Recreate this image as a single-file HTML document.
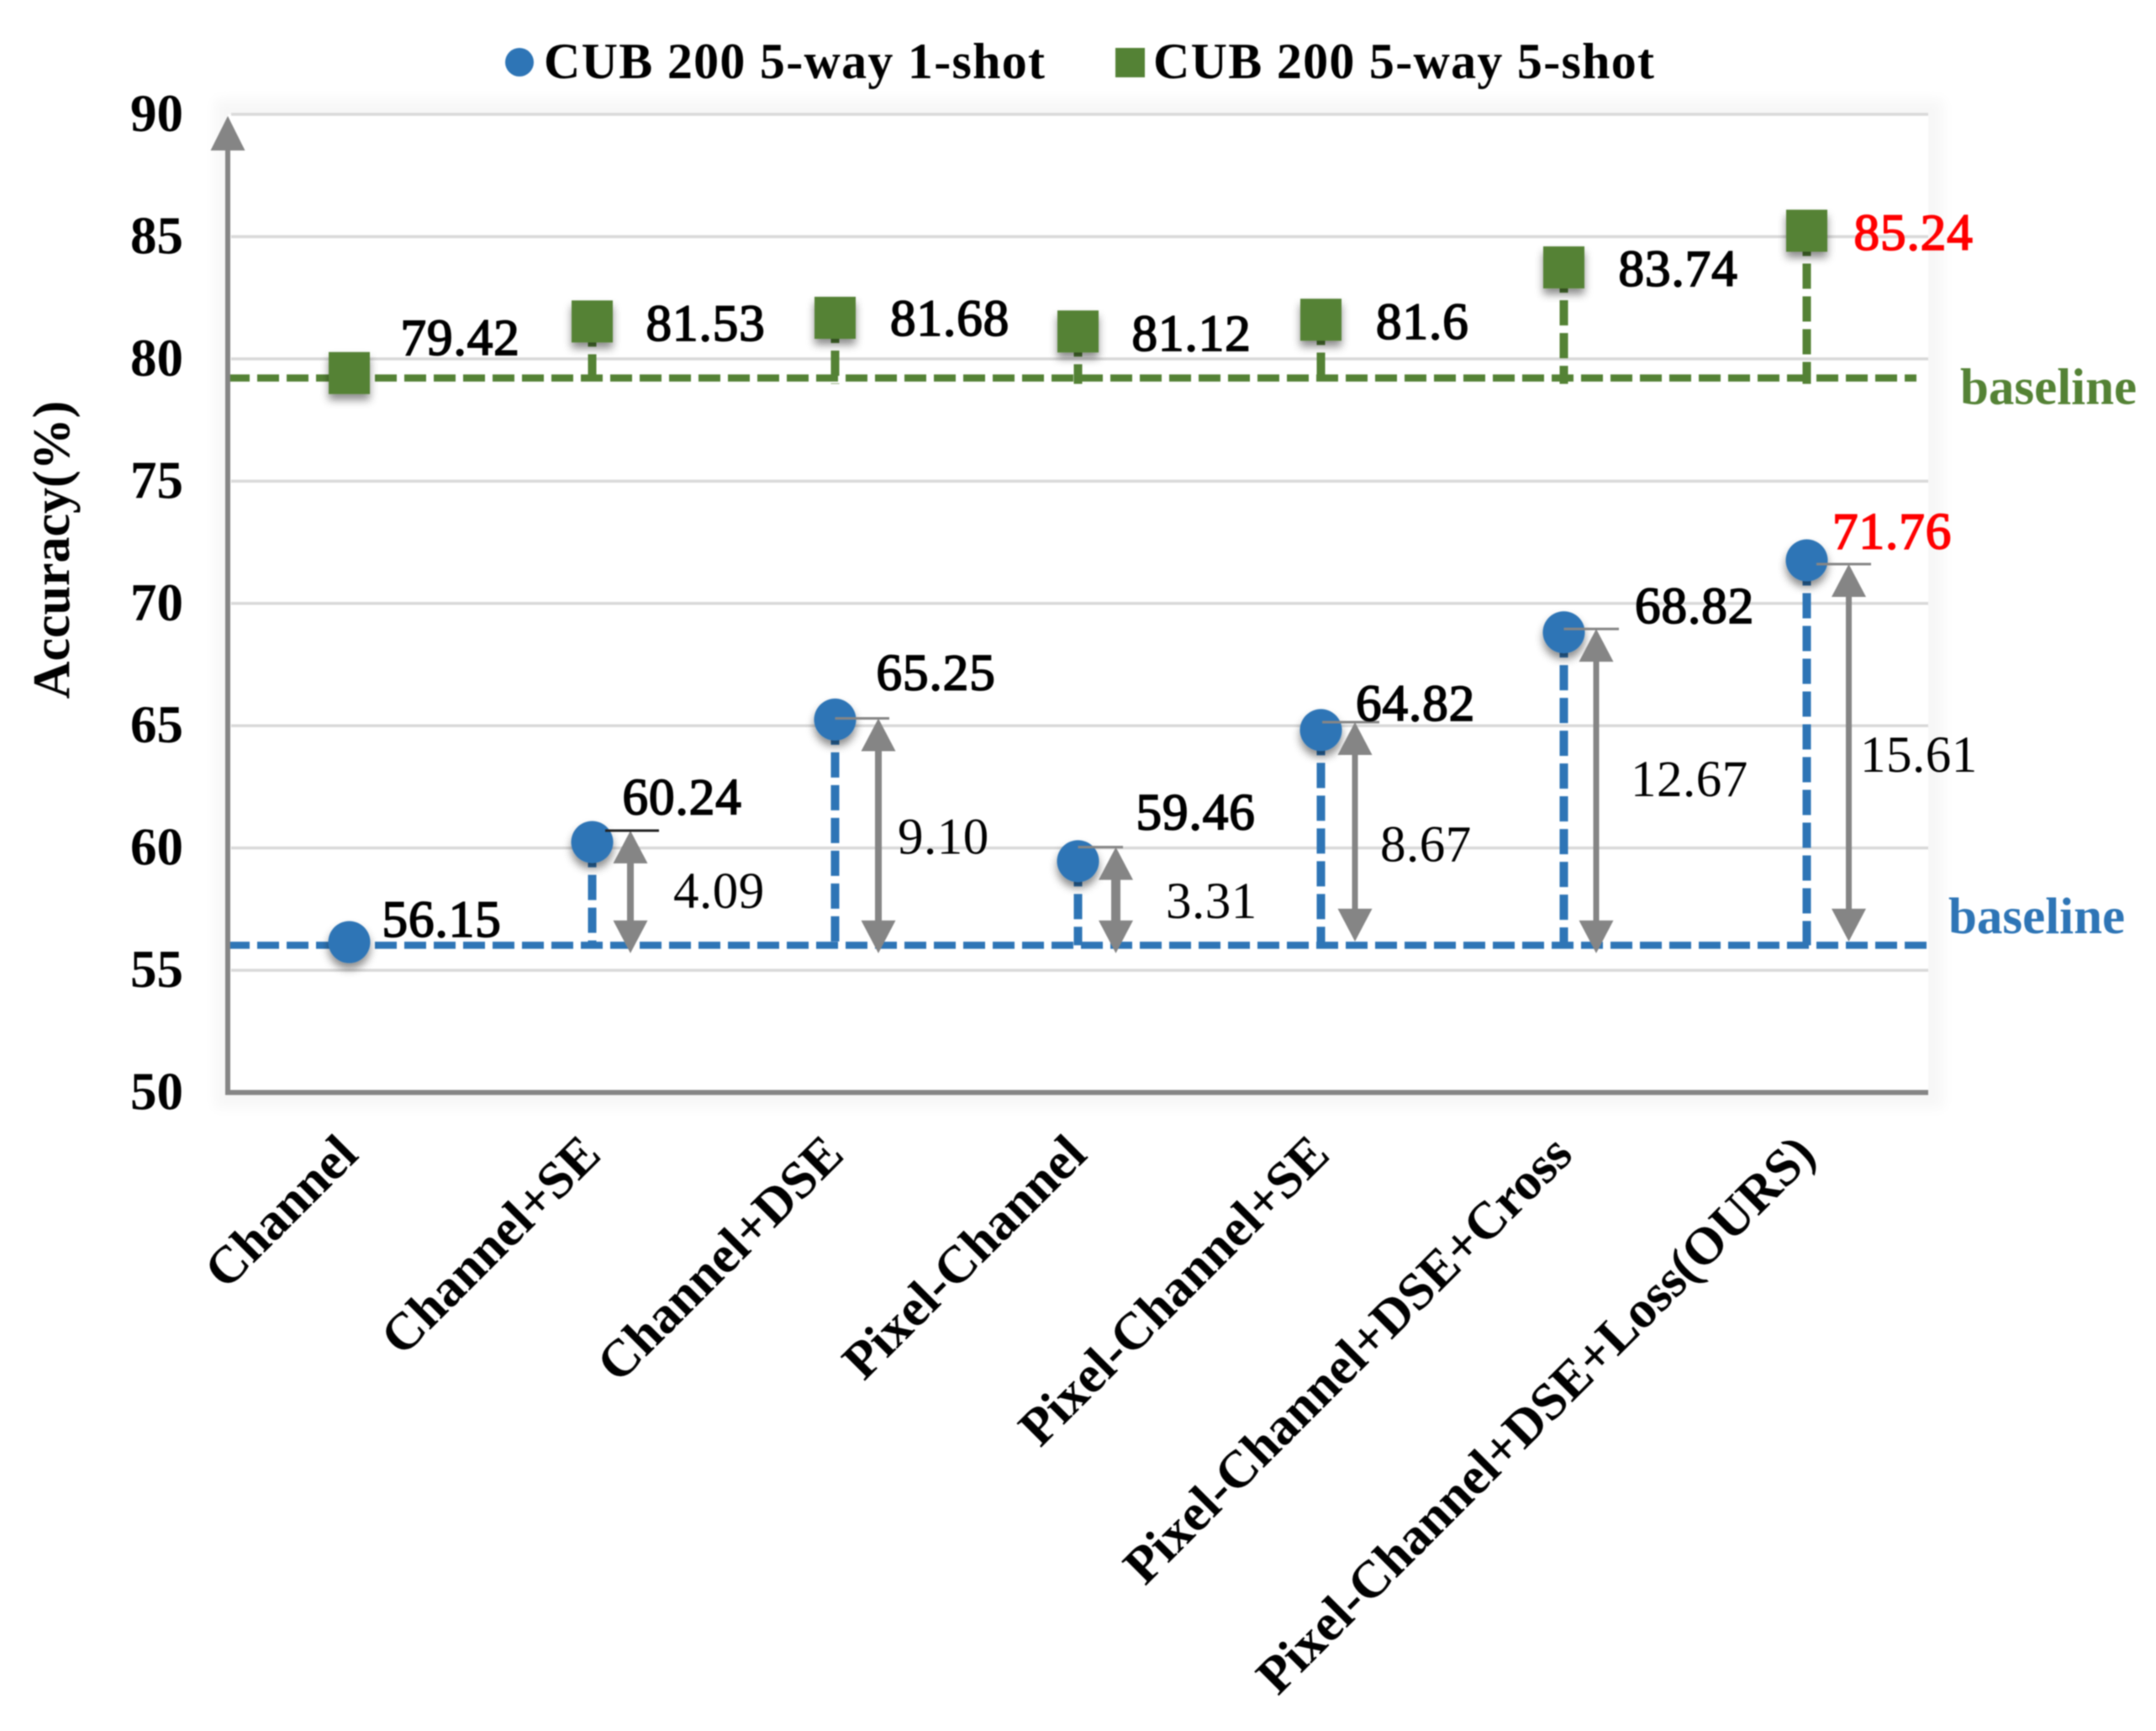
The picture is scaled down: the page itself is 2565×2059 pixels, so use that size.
<!DOCTYPE html>
<html lang="en">
<head>
<meta charset="utf-8">
<title>CUB 200 accuracy chart</title>
<style>
html,body{margin:0;padding:0;background:#fff;}
svg{display:block;font-family:"Liberation Serif",serif;filter:blur(0.7px);}
</style>
</head>
<body>
<svg id="chart" xmlns="http://www.w3.org/2000/svg" width="2565" height="2059" viewBox="0 0 2565 2059">
  <defs>
    <filter id="soft" x="-5%" y="-5%" width="110%" height="110%"><feGaussianBlur stdDeviation="7"/></filter>
    <filter id="markerShadow" x="-50%" y="-50%" width="200%" height="220%"><feDropShadow dx="0" dy="7" stdDeviation="5" flood-color="#000" flood-opacity="0.45"/></filter>
  </defs>
  <rect x="0" y="0" width="2565" height="2059" fill="#ffffff"/>
  <rect x="256" y="118" width="2056" height="1200" fill="#f7f7f7" filter="url(#soft)"/>
  <rect x="271" y="136" width="2023" height="1163" fill="#ffffff"/>
  <g id="grid"></g>
  <g id="series"></g>
  <g id="axes"></g>
  <g id="labels"></g>

  <g>
    <g>
      <circle cx="618" cy="74" r="17" fill="#2e75b6"/>
      <text x="647" y="93" font-size="60" font-weight="bold" textLength="596" lengthAdjust="spacing" fill="#000">CUB 200 5-way 1-shot</text>
    </g>
    <g>
      <rect x="1327" y="57" width="35" height="35" fill="#548235"/>
      <text x="1372" y="93" font-size="60" font-weight="bold" textLength="596" lengthAdjust="spacing" fill="#000">CUB 200 5-way 5-shot</text>
    </g>
  </g>

  <text transform="translate(82 654) rotate(-90)" text-anchor="middle" font-size="62" font-weight="bold" fill="#000">Accuracy(%)</text>
</svg>

<script>
const categories = ["Channel", "Channel+SE", "Channel+DSE", "Pixel-Channel", "Pixel-Channel+SE", "Pixel-Channel+DSE+Cross", "Pixel-Channel+DSE+Loss(OURS)"];
const oneShot = [56.15, 60.24, 65.25, 59.46, 64.82, 68.82, 71.76];
const fiveShot = [79.42, 81.53, 81.68, 81.12, 81.6, 83.74, 85.24];
const oneShotBaseline = 56.02;
const fiveShotBaseline = 79.22;
const gains = [4.09, 9.10, 3.31, 8.67, 12.67, 15.61];
const yTicks = [50, 55, 60, 65, 70, 75, 80, 85, 90];

const SVGNS = "http://www.w3.org/2000/svg";
const BLUE = "#2e75b6", GREEN = "#548235", GRAY = "#858585";
const plotLeft = 271, plotRight = 2294, plotTop = 136, plotBottom = 1299.5;
const yMin = 50, yMax = 90;

function xAxis(i) {
  return plotLeft + (plotRight - plotLeft) / categories.length * (i + 0.5);
}
function yAxis(v) {
  return plotBottom - (v - yMin) * (plotBottom - plotTop) / (yMax - yMin);
}
function make(parent, tag, attrs, text) {
  const node = document.createElementNS(SVGNS, tag);
  for (const k in attrs) node.setAttribute(k, attrs[k]);
  if (text !== undefined) node.textContent = text;
  parent.appendChild(node);
  return node;
}

const gridG = document.getElementById("grid");
const seriesG = document.getElementById("series");
const axesG = document.getElementById("axes");
const labelsG = document.getElementById("labels");

/* gridlines and y ticks */
yTicks.forEach(function (t) {
  if (t !== yMin) {
    const g = make(gridG, "line", {x1: plotLeft + 4, x2: plotRight, y1: yAxis(t), y2: yAxis(t), stroke: "#d9d9d9", "stroke-width": 3.5});
    
    
  }
  const lab = make(labelsG, "text", {x: 218, y: yAxis(t) + 20, "text-anchor": "end", "font-size": 63, "font-weight": "bold", fill: "#000"}, String(t));
  
  
});

/* baselines */
const blueBase = make(seriesG, "line", {x1: plotLeft, x2: plotRight, y1: yAxis(oneShotBaseline), y2: yAxis(oneShotBaseline), stroke: BLUE, "stroke-width": 8.5, "stroke-dasharray": "26 9"});


const greenBase = make(seriesG, "line", {x1: plotLeft, x2: 2280, y1: yAxis(fiveShotBaseline), y2: yAxis(fiveShotBaseline), stroke: GREEN, "stroke-width": 8.5, "stroke-dasharray": "26 9"});



/* stems */
categories.forEach(function (c, i) {
  if (i === 0) return;
  const s1 = make(seriesG, "line", {x1: xAxis(i), x2: xAxis(i), y1: yAxis(oneShot[i]), y2: yAxis(oneShotBaseline), stroke: BLUE, "stroke-width": 10, "stroke-dasharray": "30 9"});
  
  
  const s2 = make(seriesG, "line", {x1: xAxis(i), x2: xAxis(i), y1: yAxis(fiveShot[i]), y2: yAxis(fiveShotBaseline) + 7, stroke: GREEN, "stroke-width": 10, "stroke-dasharray": "30 9"});
  
  
});

/* markers */
categories.forEach(function (c, i) {
  const cx = xAxis(i);
  const sq = make(seriesG, "rect", {x: cx - 24.5, y: yAxis(fiveShot[i]) - 25, width: 49, height: 50, fill: GREEN, filter: "url(#markerShadow)"});
  
  
  const ci = make(seriesG, "circle", {cx: cx, cy: yAxis(oneShot[i]), r: 25, fill: BLUE, filter: "url(#markerShadow)"});
  
  
});

/* gain arrows, ticks and gain labels */
function drawGains() {
  const arrowDx = [45.5, 51.5, 45, 40.5, 38.5, 50];
  const shaftW = [8, 8, 11, 7, 7, 7];
  const topNudge = [-13.6, -1.4, -16.7, -9.4, -4, 4.5];
  const botNudge = [9.5, 9.5, 9.5, -4.5, 9.5, -4.5];
  const tickFrom = [15.5, 0, 0, 1.5, 0, 11.5];
  const tickTo = [79.5, 64.5, 53.5, 69.5, 65.5, 76.5];
  const labelDx = [96.5, 74.5, 104.5, 70.5, 79.5, 63.5];
  const labelDy = [19, 21.5, 21.2, 35, 6, 22.5];
  gains.forEach(function (gain, k) {
    const i = k + 1, cx = xAxis(i), ax = cx + arrowDx[k];
    const top = yAxis(oneShot[i]) + topNudge[k];
    const bot = yAxis(oneShotBaseline) + botNudge[k];
    const shaft = make(seriesG, "line", {x1: ax, x2: ax, y1: top + 30, y2: bot - 30, stroke: GRAY, "stroke-width": shaftW[k]});
    
    
    const head1 = make(seriesG, "polygon", {points: ax + "," + top + " " + (ax - 20.5) + "," + (top + 39) + " " + (ax + 20.5) + "," + (top + 39), fill: GRAY});
    
    
    const head2 = make(seriesG, "polygon", {points: ax + "," + bot + " " + (ax - 20.5) + "," + (bot - 39) + " " + (ax + 20.5) + "," + (bot - 39), fill: GRAY});
    
    
    const tick = make(seriesG, "line", {x1: cx + tickFrom[k], x2: cx + tickTo[k], y1: top, y2: top, stroke: k === 0 ? "#222" : GRAY, "stroke-width": 3});
    
    
    const lab = make(labelsG, "text", {x: cx + labelDx[k], y: (top + bot) / 2 + labelDy[k], "font-size": 61, "letter-spacing": 0.5, fill: "#000"}, gain.toFixed(2));
    
    
  });
}
drawGains();

/* value labels */
function drawValues() {
  const oneDx = [39, 36, 49, 69, 41.5, 84.5, 30.5];
  const oneDy = [-6.6, -33, -35.4, -37.7, -11.4, -11, -13.9];
  const fiveDx = [61, 64, 65.5, 64, 65.5, 65, 56];
  const fiveDy = [-21.7, 22.7, 21, 22.8, 22.7, 22, 22.6];
  oneShot.forEach(function (v, i) {
    const best = i === oneShot.length - 1;
    const t = make(labelsG, "text", {x: xAxis(i) + oneDx[i], y: yAxis(v) + oneDy[i], "font-size": 61, "letter-spacing": 1, fill: best ? "#ff0000" : "#000", stroke: best ? "#ff0000" : "#000", "stroke-width": 1.8}, String(v));
    
    
  });
  fiveShot.forEach(function (v, i) {
    const best = i === fiveShot.length - 1;
    const t = make(labelsG, "text", {x: xAxis(i) + fiveDx[i], y: yAxis(v) + fiveDy[i], "font-size": 61, "letter-spacing": 1, fill: best ? "#ff0000" : "#000", stroke: best ? "#ff0000" : "#000", "stroke-width": 1.8}, String(v));
    
    
  });
}
drawValues();

/* baseline captions */
const capGreen = make(labelsG, "text", {x: 2332, y: yAxis(fiveShotBaseline) + 31, "font-size": 61, "font-weight": "bold", fill: GREEN}, "baseline");


const capBlue = make(labelsG, "text", {x: 2318, y: yAxis(oneShotBaseline) - 14.5, "font-size": 61, "font-weight": "bold", fill: BLUE}, "baseline");



/* axes */
const yLine = make(axesG, "line", {x1: plotLeft, x2: plotLeft, y1: 170, y2: plotBottom + 3, stroke: GRAY, "stroke-width": 6});


const yHead = make(axesG, "polygon", {points: plotLeft + ",138 " + (plotLeft - 20.5) + ",179 " + (plotLeft + 20.5) + ",179", fill: GRAY});


const xLine = make(axesG, "line", {x1: plotLeft - 3, x2: plotRight, y1: plotBottom, y2: plotBottom, stroke: GRAY, "stroke-width": 6});



/* category labels */
categories.forEach(function (c, i) {
  const bx = xAxis(i) + 13, by = 1376;
  const t = make(labelsG, "text", {x: bx, y: by, "text-anchor": "end", "font-size": 62.5, "font-weight": "bold", fill: "#000", transform: "rotate(-45 " + bx + " " + by + ")"}, c);
  
  
});
</script>
</body>
</html>
